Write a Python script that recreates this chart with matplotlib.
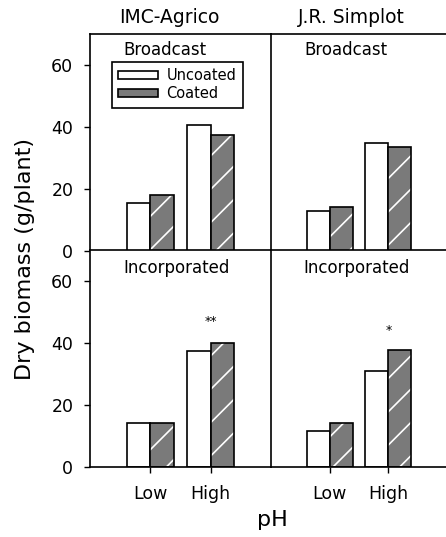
import matplotlib
matplotlib.use('Agg')
import matplotlib.pyplot as plt
from matplotlib.patches import Patch
import numpy as np

plt.rcParams['font.family'] = ['DejaVu Sans']
plt.rcParams['hatch.linewidth'] = 1.2

# data
ph_levels = ['Low', 'High']
companies = ['IMC-Agrico', 'J.R. Simplot']
methods = ['Broadcast', 'Incorporated']
uncoated = {('IMC-Agrico', 'Broadcast'): [15.5, 40.6],
            ('J.R. Simplot', 'Broadcast'): [13.0, 34.9],
            ('IMC-Agrico', 'Incorporated'): [14.3, 37.5],
            ('J.R. Simplot', 'Incorporated'): [11.7, 31.1]}
coated = {('IMC-Agrico', 'Broadcast'): [18.2, 37.4],
          ('J.R. Simplot', 'Broadcast'): [14.3, 33.6],
          ('IMC-Agrico', 'Incorporated'): [14.3, 39.9],
          ('J.R. Simplot', 'Incorporated'): [14.3, 37.7]}
signif = {('IMC-Agrico', 'Incorporated'): '**',
          ('J.R. Simplot', 'Incorporated'): '*'}

fig = plt.figure(figsize=(4.46, 5.37), dpi=100)

W, H = 446.0, 537.0
cols = [(90, 181), (271, 176)]     # left px, width px
rows = [(251, 217), (467, 217)]    # bottom px (from top), height px

x = np.arange(1, len(ph_levels) + 1)
bw = 0.39
gray = '#7a7a7a'

for r, meth in enumerate(methods):
    for c, comp in enumerate(companies):
        left, wid = cols[c]
        bot, hgt = rows[r]
        ax = fig.add_axes([left / W, (H - bot) / H, wid / W, hgt / H])
        key = (comp, meth)
        ax.bar(x - bw / 2, uncoated[key], bw, color='white', edgecolor='black',
               linewidth=1.2, zorder=2)
        ax.bar(x + bw / 2, coated[key], bw, color=gray, edgecolor='white',
               hatch='/', linewidth=0, zorder=2)
        ax.bar(x + bw / 2, coated[key], bw, fill=False, edgecolor='black',
               linewidth=1.2, zorder=3)
        ax.set_xlim(0, 3)
        ax.set_ylim(0, 70)
        for s in ['left', 'top', 'bottom']:
            ax.spines[s].set_linewidth(1.2)
        ax.spines['right'].set_visible(False)
        ax.set_xticks(x)
        ax.tick_params(axis='x', direction='out', length=4, width=1, pad=9,
                       labelsize=12.5)
        if r == 0:
            ax.set_xticklabels([])
        else:
            ax.set_xticklabels(ph_levels)
        if c == 0:
            ax.set_yticks([0, 20, 40, 60])
            ax.tick_params(axis='y', direction='out', length=4, width=1,
                           labelsize=12.5, pad=8)
        else:
            ax.set_yticks([])
        tx = [0.414, 0.423][c] if r == 0 else [0.48, 0.486][c]
        ax.text(tx, 0.925 if r == 0 else 0.917, meth, transform=ax.transAxes,
                ha='center', va='center', fontsize=12)
        if r == 0:
            ax.text([0.436, 0.457][c], 1.075, comp, transform=ax.transAxes,
                    ha='center', va='center', fontsize=13.5)
        if key in signif:
            ax.text(2, [47, 44][c], signif[key], ha='center', va='center',
                    fontsize=9)
        if r == 0 and c == 0:
            h1 = Patch(facecolor='white', edgecolor='black', linewidth=1.2)
            h2 = Patch(facecolor=gray, edgecolor='black', linewidth=1.2)
            leg = ax.legend([h1, h2], ['Uncoated', 'Coated'],
                            loc='upper left', bbox_to_anchor=(0.12, 0.872),
                            fontsize=10.5, frameon=True, fancybox=False,
                            framealpha=1, edgecolor='black', handlelength=2.7,
                            handleheight=0.5, borderpad=0.45,
                            labelspacing=0.2, handletextpad=0.6,
                            borderaxespad=0)
            leg.get_frame().set_linewidth(1.2)

fig.text(25 / W, (H - 259) / H, 'Dry biomass (g/plant)', rotation=90,
         ha='center', va='center', fontsize=16)
fig.text(272 / W, 17 / H, 'pH', ha='center', va='center', fontsize=16)

fig.savefig('out.png', dpi=100)
